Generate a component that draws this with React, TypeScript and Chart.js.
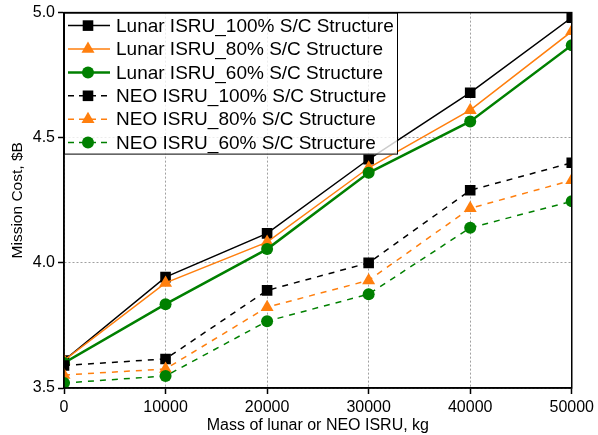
import React, { useEffect, useRef } from "react";
import { Chart, registerables } from "chart.js";

Chart.register(...registerables);

const masses = [0, 10000, 20000, 30000, 40000, 50000];
const lunar100 = [3.61, 3.943, 4.118, 4.414, 4.68, 4.98];
const lunar80 = [3.61, 3.92, 4.083, 4.38, 4.61, 4.925];
const lunar60 = [3.6, 3.835, 4.055, 4.36, 4.565, 4.87];
const neo100 = [3.59, 3.616, 3.89, 4.0, 4.29, 4.4];
const neo80 = [3.552, 3.576, 3.823, 3.93, 4.218, 4.33];
const neo60 = [3.52, 3.548, 3.767, 3.875, 4.14, 4.246];
const yTicks = [3.5, 4.0, 4.5, 5.0];
const xTitle = "Mass of lunar or NEO ISRU, kg";
const yTitle = "Mission Cost, $B";

const BLACK = "#000000";
const ORANGE = "#ff7f0e";
const GREEN = "#008000";
const DASH = [6, 6];
const FONT = "'Liberation Sans', Arial, sans-serif";

type S = { label: string; data: number[]; color: string; marker: string; width: number; dashed: boolean };
const series: S[] = [
  { label: "Lunar ISRU_100% S/C Structure", data: lunar100, color: BLACK, marker: "rect", width: 1.5, dashed: false },
  { label: "Lunar ISRU_80% S/C Structure", data: lunar80, color: ORANGE, marker: "triangle", width: 1.5, dashed: false },
  { label: "Lunar ISRU_60% S/C Structure", data: lunar60, color: GREEN, marker: "circle", width: 2.5, dashed: false },
  { label: "NEO ISRU_100% S/C Structure", data: neo100, color: BLACK, marker: "rect", width: 1.5, dashed: true },
  { label: "NEO ISRU_80% S/C Structure", data: neo80, color: ORANGE, marker: "triangle", width: 1.5, dashed: true },
  { label: "NEO ISRU_60% S/C Structure", data: neo60, color: GREEN, marker: "circle", width: 1.5, dashed: true },
];

const radiusFor = (m: string) => (m === "circle" ? 6 : 7.5);

function drawMarker(ctx: CanvasRenderingContext2D, m: string, x: number, y: number, color: string) {
  const r = radiusFor(m);
  ctx.save();
  ctx.fillStyle = color;
  ctx.beginPath();
  if (m === "rect") {
    const s = Math.SQRT1_2 * r;
    ctx.rect(x - s, y - s, 2 * s, 2 * s);
  } else if (m === "triangle") {
    ctx.moveTo(x, y - r);
    ctx.lineTo(x + r * Math.sin(Math.PI / 3), y + r / 2);
    ctx.lineTo(x - r * Math.sin(Math.PI / 3), y + r / 2);
    ctx.closePath();
  } else {
    ctx.arc(x, y, r, 0, Math.PI * 2);
  }
  ctx.fill();
  ctx.restore();
}

const framePlugin = {
  id: "frameLegend",
  afterDraw(chart: any) {
    const ctx: CanvasRenderingContext2D = chart.ctx;
    const a = chart.chartArea;
    ctx.save();
    // legend box
    const lx = a.left, ly = a.top, lw = 334, lh = 142;
    ctx.fillStyle = "rgba(255,255,255,0.8)";
    ctx.fillRect(lx, ly, lw, lh);
    ctx.strokeStyle = "#000";
    ctx.lineWidth = 1;
    ctx.strokeRect(lx + 0.5, ly + 0.5, lw - 1, lh - 1);
    ctx.font = "19px " + FONT;
    ctx.textBaseline = "middle";
    ctx.textAlign = "left";
    series.forEach((s, i) => {
      const y = ly + 13 + i * 23.4;
      ctx.save();
      ctx.strokeStyle = s.color;
      ctx.lineWidth = s.width;
      ctx.setLineDash(s.dashed ? [6, 5] : []);
      ctx.beginPath();
      ctx.moveTo(lx + 4, y);
      ctx.lineTo(lx + 46, y);
      ctx.stroke();
      ctx.restore();
      drawMarker(ctx, s.marker, lx + 24, y, s.color);
      ctx.fillStyle = "#000";
      ctx.fillText(s.label, lx + 52, y + 1);
    });
    // frame
    ctx.strokeStyle = "#000";
    ctx.lineWidth = 1.5;
    ctx.setLineDash([]);
    ctx.strokeRect(a.left, a.top, a.right - a.left, a.bottom - a.top);
    ctx.restore();
  },
};

export default function App() {
  const ref = useRef<HTMLCanvasElement | null>(null);
  useEffect(() => {
    if (!ref.current) return;
    const gridOpts: any = { color: "#a0a0a0", lineWidth: 1, tickLength: 6, tickColor: "#000", tickWidth: 1.5, tickBorderDash: [] };
    const borderOpts: any = { display: true, color: "#000", width: 1.5, dash: [2, 2] };
    const chart = new Chart(ref.current, {
      type: "line",
      data: {
        datasets: series.map((s, i) => ({
          label: s.label,
          data: s.data.map((v, j) => ({ x: masses[j], y: v })),
          borderColor: s.color,
          backgroundColor: s.color,
          borderWidth: s.width,
          borderDash: s.dashed ? DASH : [],
          pointStyle: s.marker as any,
          pointRadius: radiusFor(s.marker),
          pointBorderWidth: 0,
          pointBackgroundColor: s.color,
          tension: 0,
          order: 5 - i,
        })),
      },
      options: {
        animation: false,
        responsive: false,
        maintainAspectRatio: false,
        layout: { padding: { top: 12, right: 20, left: 0, bottom: 0 } },
        plugins: { legend: { display: false }, tooltip: { enabled: false } },
        scales: {
          x: {
            type: "linear",
            min: 0,
            max: 50000,
            afterFit: (sc: any) => { sc.height = 47; },
            ticks: { stepSize: 10000, color: "#000", font: { size: 16, family: FONT }, padding: 4, maxRotation: 0, callback: (v: any) => String(v) },
            grid: gridOpts,
            border: borderOpts,
            title: { display: true, text: xTitle, color: "#000", font: { size: 16, family: FONT }, padding: { top: -6, bottom: 0 } },
          },
          y: {
            type: "linear",
            min: 3.5,
            max: 5.0,
            afterFit: (sc: any) => { sc.width = 64; },
            afterBuildTicks: (sc: any) => { sc.ticks = yTicks.map((v) => ({ value: v })); },
            ticks: { color: "#000", font: { size: 16, family: FONT }, padding: 3, callback: (v: any) => Number(v).toFixed(1) },
            grid: gridOpts,
            border: borderOpts,
            title: { display: true, text: yTitle, color: "#000", font: { size: 15.5, family: FONT }, padding: { top: 8, bottom: 0 } },
          },
        },
      },
      plugins: [framePlugin],
    });
    return () => chart.destroy();
  }, []);
  return (
    <div style={{ position: "fixed", left: 0, top: 0, width: 598, height: 435, background: "#fff" }}>
      <canvas ref={ref} width={598} height={435} style={{ width: 598, height: 435 }} />
    </div>
  );
}
